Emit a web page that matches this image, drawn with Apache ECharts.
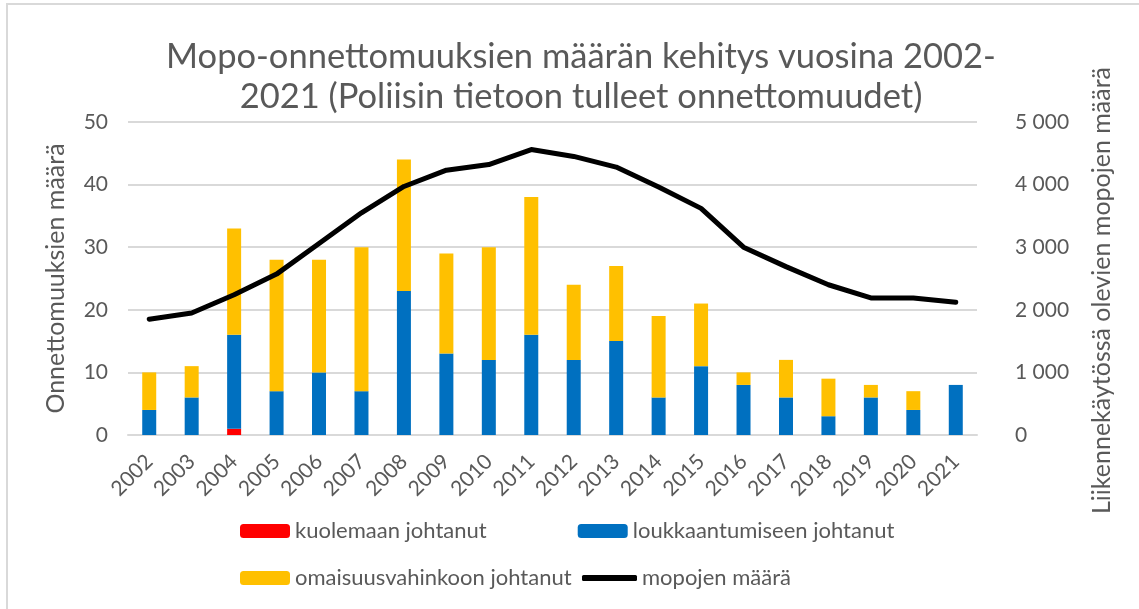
<!DOCTYPE html>
<html>
<head>
<meta charset="utf-8">
<script src="https://cdn.jsdelivr.net/npm/echarts@6/dist/echarts.min.js"></script>
<style>
  html, body { margin: 0; padding: 0; background: #fff; }
  #main { width: 1139px; height: 609px; }
</style>
</head>
<body>
<div id="main"></div>
<script>
// vuodet
const years = ['2002', '2003', '2004', '2005', '2006', '2007', '2008', '2009', '2010', '2011',
  '2012', '2013', '2014', '2015', '2016', '2017', '2018', '2019', '2020', '2021'];

// onnettomuudet (vasen akseli)
const kuolemaan = [0, 0, 1, 0, 0, 0, 0, 0, 0, 0, 0, 0, 0, 0, 0, 0, 0, 0, 0, 0];
const loukkaantumiseen = [4, 6, 15, 7, 10, 7, 23, 13, 12, 16, 12, 15, 6, 11, 8, 6, 3, 6, 4, 8];
const omaisuusvahinkoon = [6, 5, 17, 21, 18, 23, 21, 16, 18, 22, 12, 12, 13, 10, 2, 6, 6, 2, 3, 0];

// mopojen määrä (oikea akseli)
const mopot = [1850, 1950, 2240, 2570, 3060, 3550, 3970, 4230, 4320, 4560,
  4450, 4280, 3960, 3620, 3000, 2690, 2400, 2190, 2190, 2120];

const FONT = 'Lato';
const GREY = '#595959';
const legendText = { fontFamily: FONT, fontSize: 22, color: GREY };

let chart = echarts.init(document.getElementById('main'));

chart.setOption({
  animation: false,
  textStyle: { fontFamily: FONT },
  title: {
    text: 'Mopo-onnettomuuksien määrän kehitys vuosina 2002-\n2021 (Poliisin tietoon tulleet onnettomuudet)',
    left: 576,
    top: 32,
    textAlign: 'center',
    textStyle: {
      fontFamily: FONT,
      fontSize: 34.5,
      fontWeight: 'normal',
      color: GREY,
      lineHeight: 40
    }
  },
  graphic: [{
    type: 'rect',
    shape: { x: 7, y: 4, width: 1140, height: 620 },
    style: { fill: 'none', stroke: '#d9d9d9', lineWidth: 2 },
    silent: true
  }],
  legend: [{
    data: ['kuolemaan johtanut', 'loukkaantumiseen johtanut'],
    left: 235,
    top: 515,
    itemWidth: 50,
    itemHeight: 14,
    itemGap: 91,
    textStyle: legendText
  }, {
    data: ['omaisuusvahinkoon johtanut'],
    left: 235,
    top: 562,
    itemWidth: 50,
    itemHeight: 14,
    textStyle: legendText
  }, {
    data: ['mopojen määrä'],
    left: 577,
    top: 562,
    icon: 'roundRect',
    itemWidth: 55,
    itemHeight: 6,
    textStyle: legendText
  }],
  grid: {
    left: 128,
    right: 162,
    top: 122,
    bottom: 174
  },
  xAxis: {
    type: 'category',
    data: years,
    axisLine: { lineStyle: { color: '#d9d9d9', width: 2 } },
    axisTick: { show: false },
    axisLabel: {
      rotate: 45,
      color: GREY,
      fontSize: 21,
      margin: 23
    }
  },
  yAxis: [{
    type: 'value',
    min: 0,
    max: 50,
    interval: 10,
    name: 'Onnettomuuksien määrä',
    nameLocation: 'middle',
    nameRotate: 90,
    nameGap: 60,
    nameTextStyle: { fontFamily: FONT, fontSize: 25, color: GREY },
    axisLabel: { color: GREY, fontSize: 21, margin: 20 },
    splitLine: { lineStyle: { color: '#d9d9d9', width: 2 } },
    axisLine: { show: false },
    axisTick: { show: false }
  }, {
    type: 'value',
    min: 0,
    max: 5000,
    interval: 1000,
    name: 'Liikennekäytössä olevien mopojen määrä',
    nameLocation: 'middle',
    nameRotate: 90,
    nameGap: 112,
    nameTextStyle: { fontFamily: FONT, fontSize: 25, color: GREY, padding: [0, 24, 0, 0] },
    axisLabel: {
      color: GREY,
      fontSize: 21,
      margin: 38,
      formatter: (v) => String(v).replace(/\B(?=(\d{3})+(?!\d))/g, ' ')
    },
    splitLine: { show: false },
    axisLine: { show: false },
    axisTick: { show: false }
  }],
  series: [{
    name: 'kuolemaan johtanut',
    type: 'bar',
    stack: 'onnettomuudet',
    barWidth: 14,
    itemStyle: { color: '#ff0000' },
    data: kuolemaan
  }, {
    name: 'loukkaantumiseen johtanut',
    type: 'bar',
    stack: 'onnettomuudet',
    barWidth: 14,
    itemStyle: { color: '#0070c0' },
    data: loukkaantumiseen
  }, {
    name: 'omaisuusvahinkoon johtanut',
    type: 'bar',
    stack: 'onnettomuudet',
    barWidth: 14,
    itemStyle: { color: '#ffc000' },
    data: omaisuusvahinkoon
  }, {
    name: 'mopojen määrä',
    type: 'line',
    yAxisIndex: 1,
    symbol: 'none',
    lineStyle: { color: '#000', width: 5, cap: 'round', join: 'round' },
    itemStyle: { color: '#000' },
    data: mopot
  }]
});
</script>
</body>
</html>
